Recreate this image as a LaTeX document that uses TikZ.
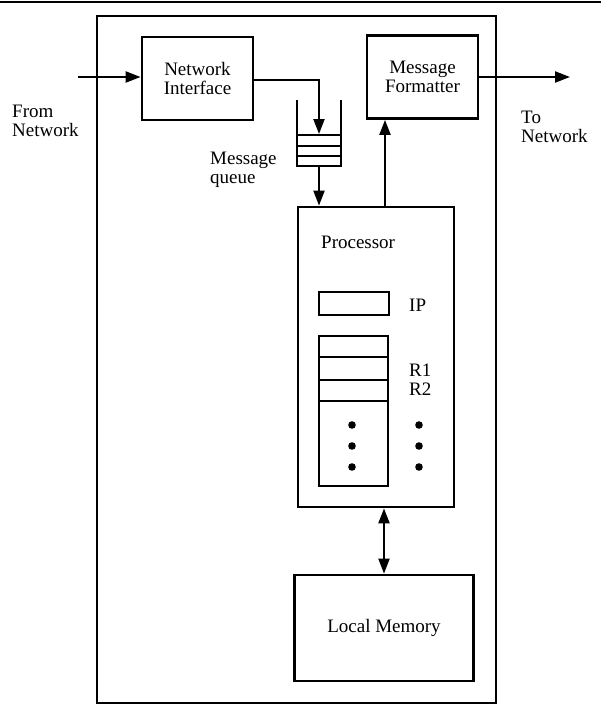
\documentclass[tikz,border=0pt]{standalone}
\usepackage{fontspec}
\setmainfont{Liberation Serif}
\usetikzlibrary{arrows.meta,positioning}

\begin{document}
\begin{tikzpicture}[x=1pt,y=-1pt,
    box/.style={draw,line width=2.8pt,inner sep=0pt,font=\fontsize{19}{19}\selectfont,align=center},
    arr/.style={line width=2.2pt,-{Triangle[length=15pt,width=11pt]}},
    lbl/.style={font=\fontsize{19}{19}\selectfont,align=left,inner sep=0pt,anchor=west}]
        \useasboundingbox (0,0) rectangle (601,705);
        \draw[line width=1.8pt] (0,2)--(601,2);
        % node boundary
        \node[box,line width=2.5pt,minimum width=399pt,minimum height=687pt] (pe) at (296.5,359.5) {};
        \node[box,minimum width=111pt,minimum height=83pt] (ni) at (197.5,78.5) {Network\\Interface};
        \node[box,minimum width=111pt,minimum height=83pt] (mf) at (422.5,77) {Message\\Formatter};
        \node[box,minimum width=156pt,minimum height=300pt] (proc) at (376,357) {};
        \node[box,minimum width=179pt,minimum height=106pt] (lm) at (384,628) {Local Memory};
        % processor contents
        \node[box,minimum width=70pt,minimum height=23pt] (ip) at (354,303.5) {};
        \node[box,minimum width=69pt,minimum height=150pt] (regs) at (353.5,411) {};
        \foreach \y in {357,380,401}{\draw[line width=2.4pt] (regs.west |- 0,\y)--(regs.east |- 0,\y);}
        \foreach \x in {352,419}{\foreach \y in {425,446,467}{\fill (\x,\y) circle (3.8pt);}}
        \node[lbl] (proclbl) at (321,242) {Processor};
        \node[lbl] (iplbl) at (409,305) {IP};
        \node[lbl] (r1lbl) at (409,370) {R1};
        \node[lbl] (r2lbl) at (409,389) {R2};
        % message queue
        \draw[line width=2.4pt] (297,100)--(297,166)--(341,166)--(341,100);
        \foreach \y in {135,146,156}{\draw[line width=2.4pt] (297,\y)--(341,\y);}
        \coordinate (qin) at (319,134);
        \coordinate (qout) at (319,166);
        \node[lbl] (qlbl) at (210,170) {Message\\queue};
        % network side
        \coordinate (fromnet) at (78,77);
        \coordinate (tonet) at (570,77);
        \node[lbl] (fromlbl) at (12,121) {From\\Network};
        \node[lbl] (tolbl) at (521,127) {To\\Network};
        % connectors
        \draw[arr] (fromnet)--(ni.west |- fromnet);
        \draw[arr] (ni.east |- 0,80) -| (qin);
        \draw[arr] (qout)--(qout |- proc.north);
        \draw[arr] ([xshift=9pt]proc.north)--([xshift=9pt]proc.north |- mf.south);
        \draw[arr] (mf.east |- tonet)--(tonet);
        \draw[arr,{Triangle[length=15pt,width=11pt]}-{Triangle[length=15pt,width=11pt]}] (lm.north |- proc.south)--(lm.north);
      \end{tikzpicture}
\end{document}
